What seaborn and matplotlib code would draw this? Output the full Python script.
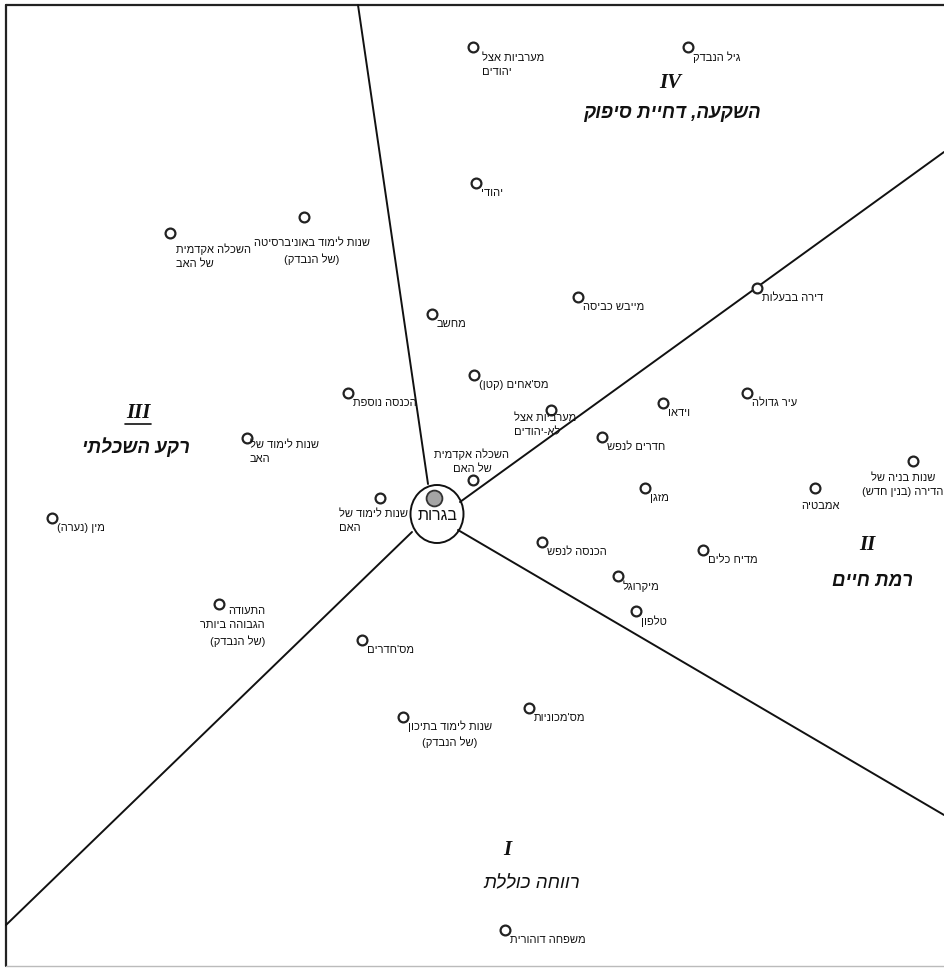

# 1. Imports
import pandas as pd
import seaborn as sns
import matplotlib.pyplot as plt
from matplotlib.patches import Ellipse

# 2. Data (positions on the map, in pixels)
labels = [
    "מערביות אצל\nיהודים", "גיל הנבדק", "יהודי",
    "שנות לימוד באוניברסיטה\n(של הנבדק)", "השכלה אקדמית\nשל האב", "מחשב",
    "מייבש כביסה", "דירה בבעלות", "מס'אחים (קטן)", "הכנסה נוספת",
    "מערביות אצל\nלא-יהודים", "עיר גדולה", "וידאו", "חדרים לנפש",
    "שנות לימוד של\nהאב", "השכלה אקדמית\nשל האם", "שנות לימוד של\nהאם",
    "מזגן", "אמבטיה", "שנות בניה של\nהדירה (בנין חדש)", "מין (נערה)",
    "הכנסה לנפש", "מדיח כלים", "מיקרוגל", "טלפון",
    "התעודה\nהגבוהה ביותר\n(של הנבדק)", "מס'חדרים", "מס'מכוניות",
    "שנות לימוד בתיכון\n(של הנבדק)", "משפחה דוהורית",
]
map_x = [473, 688, 476, 304, 170, 432, 578, 757, 474, 348,
         551, 747, 663, 602, 247, 473, 380, 645, 815, 913,
         52, 542, 703, 618, 636, 219, 362, 529, 403, 505]
map_y = [47, 47, 183, 217, 233, 314, 297, 288, 375, 393,
         410, 393, 403, 437, 438, 480, 498, 488, 488, 461,
         518, 542, 550, 576, 611, 604, 640, 708, 717, 930]

center_label = "בגרות"
center_x = [434]
center_y = [498]

# facet partition lines (start -> end)
line_x0 = [428, 460, 458, 412]
line_y0 = [484, 502, 530, 532]
line_x1 = [358, 944, 944, 6]
line_y1 = [5, 152, 815, 925]

region_numerals = ["IV", "II", "III", "I"]
region_names = ["השקעה, דחיית סיפוק", "רמת חיים", "רקע השכלתי", "רווחה כוללת"]

# 3. Layout of the labels: offset from the marker and alignment
label_style = {
    0: (9, 6, "left", "top"), 3: (8, 21, "center", "top"),
    4: (6, 10, "left", "top"), 10: (-37, 3, "left", "top"),
    14: (3, 2, "left", "top"), 15: (-1, -6, "center", "bottom"),
    16: (-41, 11, "left", "top"), 18: (5, 18, "center", "center"),
    19: (-10, 12, "center", "top"), 25: (46, 2, "right", "top"),
    28: (47, 3, "center", "top"),
}
default_style = (5, 10, "left", "center")
region_pos = [(670, 83, 672, 114), (867, 545, 873, 582),
              (138, 413, 136, 447), (507, 850, 532, 884)]

# matplotlib has no right-to-left layout, so flip each line for display
def heb(s):
    flip = str.maketrans("()", ")(")
    return "\n".join(line[::-1].translate(flip) for line in s.split("\n"))

df = pd.DataFrame({"x": map_x, "y": map_y, "label": labels})

# 4. Plot
sns.set_style("white")
plt.rcParams["font.family"] = ["Liberation Sans", "DejaVu Sans"]

fig = plt.figure(figsize=(9.44, 9.71), dpi=100)
ax = fig.add_axes([0, 0, 1, 1])
ax.set_xlim(0, 944)
ax.set_ylim(971, 0)
ax.axis("off")

# frame of the scanned page
ax.plot([6, 944], [5, 5], color="#222222", lw=1.6)
ax.plot([6, 6], [5, 966], color="#222222", lw=1.6)
ax.plot([6, 944], [966, 966], color="#bbbbbb", lw=1.0)

for x0, y0, x1, y1 in zip(line_x0, line_y0, line_x1, line_y1):
    ax.plot([x0, x1], [y0, y1], color="#111111", lw=1.4)

ax.add_patch(Ellipse((437, 514), 53, 58, fill=False, edgecolor="#111111", lw=1.4))

sns.scatterplot(data=df, x="x", y="y", ax=ax, s=50, marker="o",
                facecolor="white", edgecolor="#222222", linewidth=1.6, zorder=3)
sns.scatterplot(x=center_x, y=center_y, ax=ax, s=130, marker="o",
                color="#a5a5a5", edgecolor="#333333", linewidth=1.3, zorder=3)

for i, row in df.iterrows():
    dx, dy, ha, va = label_style.get(i, default_style)
    ax.text(row["x"] + dx, row["y"] + dy, heb(row["label"]), ha=ha, va=va,
            ma=ha, fontsize=8, linespacing=1.55, color="#111111", zorder=4)

ax.text(center_x[0] + 4, center_y[0] + 17, heb(center_label), ha="center",
        va="center", fontsize=11.5, color="#111111")

for (nx, ny, tx, ty), num, name in zip(region_pos, region_numerals, region_names):
    ax.text(nx, ny, num, ha="center", va="center", fontsize=15,
            family="Liberation Serif", style="italic", weight="bold", color="#111111")
    ax.text(tx, ty, heb(name), ha="center", va="center", fontsize=13.5,
            style="italic", weight="normal" if num == "I" else "bold", color="#111111")
    if num == "III":
        ax.plot([nx - 13, nx + 13], [ny + 11, ny + 11], color="#111111", lw=1.2)

plt.savefig("out.png", dpi=100)
